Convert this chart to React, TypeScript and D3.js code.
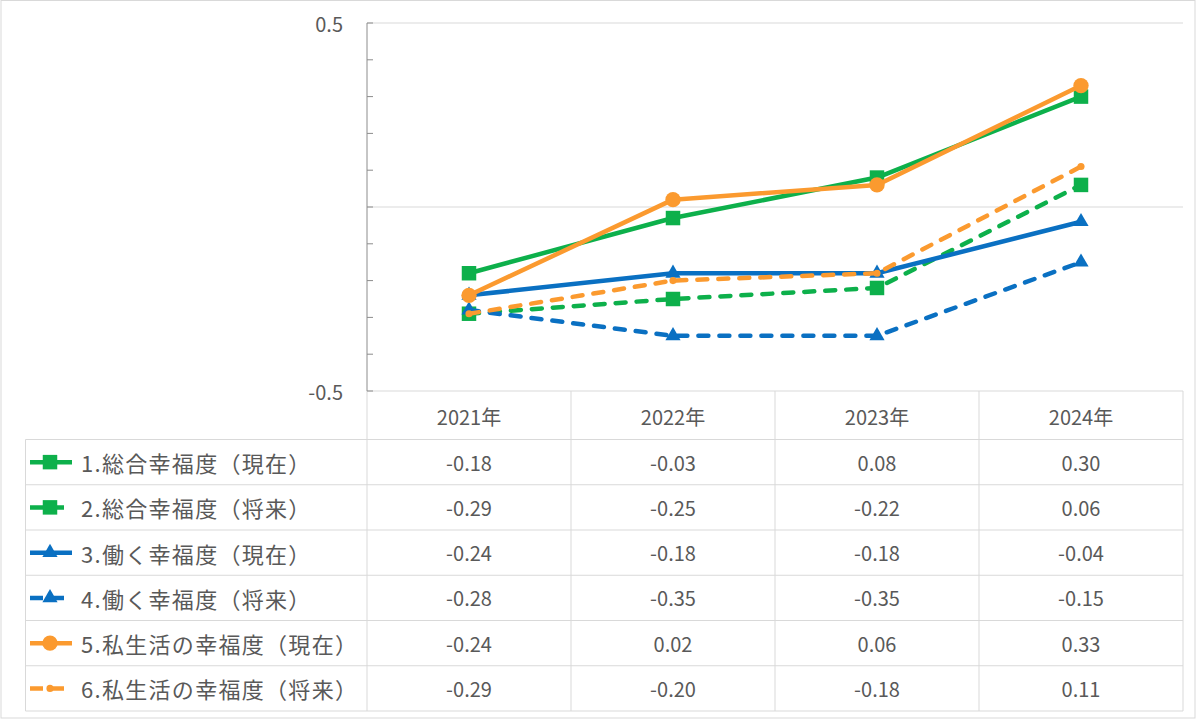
import * as d3 from "d3"

// chart data
const years = ["2021年", "2022年", "2023年", "2024年"]
const seriesNames = [
  "1.総合幸福度（現在）",
  "2.総合幸福度（将来）",
  "3.働く幸福度（現在）",
  "4.働く幸福度（将来）",
  "5.私生活の幸福度（現在）",
  "6.私生活の幸福度（将来）",
]
const sogoNow = [-0.18, -0.03, 0.08, 0.3]
const sogoFuture = [-0.29, -0.25, -0.22, 0.06]
const hatarakuNow = [-0.24, -0.18, -0.18, -0.04]
const hatarakuFuture = [-0.28, -0.35, -0.35, -0.15]
const shiseikatsuNow = [-0.24, 0.02, 0.06, 0.33]
const shiseikatsuFuture = [-0.29, -0.2, -0.18, 0.11]
const yLabelTicks = [0.5, -0.5]
const yGridTicks = [0.5, 0, -0.5]

const GREEN = "#0db04b"
const BLUE = "#0a70c2"
const ORANGE = "#fb9a2f"
const TEXT = "#595959"
const GRID = "#d9d9d9"

const series = [
  { name: seriesNames[0], values: sogoNow, color: GREEN, dashed: false, marker: d3.symbolSquare, size: 210 },
  { name: seriesNames[1], values: sogoFuture, color: GREEN, dashed: true, marker: d3.symbolSquare, size: 210 },
  { name: seriesNames[2], values: hatarakuNow, color: BLUE, dashed: false, marker: d3.symbolTriangle, size: 100 },
  { name: seriesNames[3], values: hatarakuFuture, color: BLUE, dashed: true, marker: d3.symbolTriangle, size: 100 },
  { name: seriesNames[4], values: shiseikatsuNow, color: ORANGE, dashed: false, marker: d3.symbolCircle, size: 185 },
  { name: seriesNames[5], values: shiseikatsuFuture, color: ORANGE, dashed: true, marker: d3.symbolCircle, size: 40 },
]

const width = 1200
const height = 720
const plotLeft = 367
const plotRight = 1183
const plotTop = 23
const plotBottom = 391
const tableLeft = 25.5
const tableBottom = 711

const font = "'Noto Sans CJK JP', 'Noto Sans', sans-serif"

export default function App() {
  const x = d3.scaleBand<string>().domain(years).range([plotLeft, plotRight])
  const y = d3.scaleLinear().domain([-0.5, 0.5]).range([plotBottom, plotTop])
  const rows = d3.scaleBand<string>().domain(seriesNames).range([439.5, tableBottom])

  const line = d3
    .line<number>()
    .x((_, i) => (x(years[i]) as number) + x.bandwidth() / 2)
    .y((d) => y(d))

  const minorTicks = y.ticks(10)

  return (
    <svg
      width={width}
      height={height}
      style={{ position: "absolute", left: 0, top: 0, background: "#fff" }}
      fontFamily={font}
    >
      <rect x={1} y={0.5} width={1194} height={717.5} fill="#fff" stroke={GRID} />

      {/* gridlines */}
      {yGridTicks.map((t) => (
        <line key={t} x1={plotLeft} x2={plotRight} y1={y(t)} y2={y(t)} stroke={GRID} strokeWidth={1} />
      ))}

      {/* y labels */}
      {yLabelTicks.map((t) => (
        <text key={t} x={343} y={y(t)} textAnchor="end" dominantBaseline="central" fontSize={20} fill={TEXT}>
          {t.toFixed(1)}
        </text>
      ))}

      {/* data table */}
      {x.domain().map((yr) => (
        <line
          key={yr}
          x1={(x(yr) as number) + x.bandwidth()}
          x2={(x(yr) as number) + x.bandwidth()}
          y1={plotBottom}
          y2={tableBottom}
          stroke={GRID}
        />
      ))}
      <line x1={plotLeft} x2={plotLeft} y1={plotBottom} y2={tableBottom} stroke={GRID} />
      <line x1={tableLeft} x2={tableLeft} y1={rows.range()[0]} y2={tableBottom} stroke={GRID} />
      {seriesNames.map((n) => (
        <line
          key={n}
          x1={tableLeft}
          x2={plotRight}
          y1={rows(n) as number}
          y2={rows(n) as number}
          stroke={GRID}
        />
      ))}
      <line x1={tableLeft} x2={plotRight} y1={tableBottom} y2={tableBottom} stroke={GRID} />

      {years.map((yr) => (
        <text
          key={yr}
          x={(x(yr) as number) + x.bandwidth() / 2}
          y={(plotBottom + rows.range()[0]) / 2 + 1}
          textAnchor="middle"
          dominantBaseline="central"
          fontSize={20}
          fill={TEXT}
        >
          {yr}
        </text>
      ))}

      {series.map((s) => {
        const cy = (rows(s.name) as number) + rows.bandwidth() / 2
        return (
          <g key={s.name}>
            <line
              x1={30}
              x2={s.dashed ? 64 : 72}
              y1={cy}
              y2={cy}
              stroke={s.color}
              strokeWidth={4.5}
              strokeDasharray={s.dashed ? "13,8" : undefined}
            />
            <path
              d={d3.symbol().type(s.marker).size(s.size)() as string}
              transform={`translate(50,${cy})`}
              fill={s.color}
            />
            <text x={81} y={cy} dominantBaseline="central" fontSize={22} letterSpacing={1.3} fill={TEXT}>
              {s.name}
            </text>
            {s.values.map((v, i) => (
              <text
                key={i}
                x={(x(years[i]) as number) + x.bandwidth() / 2}
                y={cy}
                textAnchor="middle"
                dominantBaseline="central"
                fontSize={20}
                fill={TEXT}
              >
                {v.toFixed(2)}
              </text>
            ))}
          </g>
        )
      })}

      {/* y axis */}
      <line x1={plotLeft} x2={plotLeft} y1={plotTop} y2={plotBottom} stroke="#8c8c8c" />
      {minorTicks.map((t) => (
        <line key={t} x1={plotLeft} x2={plotLeft + 6} y1={y(t)} y2={y(t)} stroke="#8c8c8c" />
      ))}

      {/* series lines */}
      {series.map((s) => (
        <g key={s.name}>
          <path
            d={line(s.values) as string}
            fill="none"
            stroke={s.color}
            strokeWidth={4.5}
            strokeLinejoin="round"
            strokeLinecap="round"
            strokeDasharray={s.dashed ? "10,11" : undefined}
          />
          {s.values.map((v, i) => (
            <path
              key={i}
              d={d3.symbol().type(s.marker).size(s.size)() as string}
              transform={`translate(${(x(years[i]) as number) + x.bandwidth() / 2},${y(v)})`}
              fill={s.color}
            />
          ))}
        </g>
      ))}
    </svg>
  )
}
